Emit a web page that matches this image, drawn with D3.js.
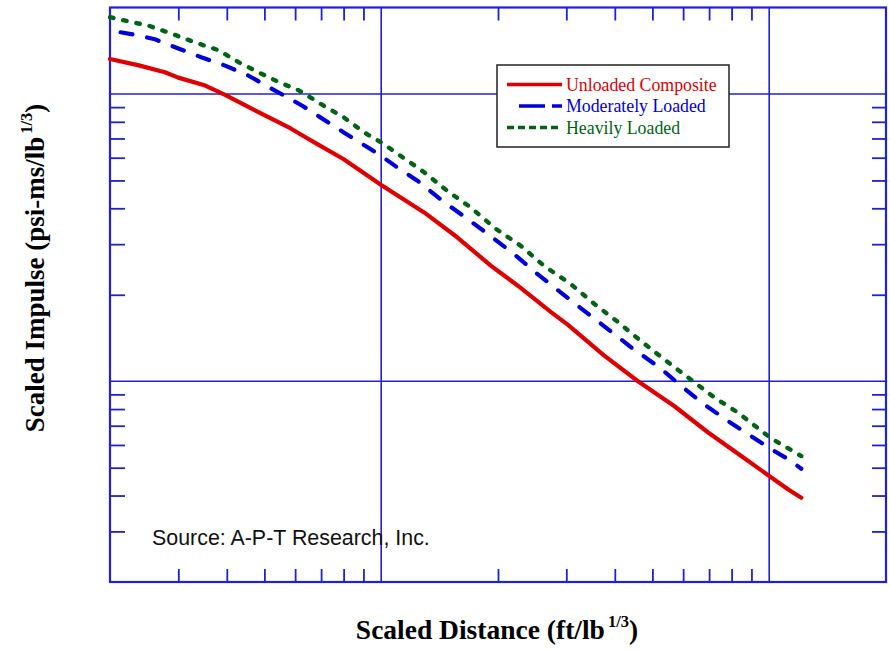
<!DOCTYPE html>
<html>
<head>
<meta charset="utf-8">
<script src="https://cdn.jsdelivr.net/npm/d3@7"></script>
<style>
  body { margin: 0; background: #fff; }
</style>
</head>
<body>
<div class="canvas"></div>
<script>
// data (log-log)
const redDist = [0.2, 0.236, 0.277, 0.300, 0.352, 0.396, 0.503, 0.583, 0.638, 0.697, 0.799, 1.0, 1.29, 1.57, 1.92, 2.0, 2.25, 2.74, 3.03, 3.75, 4.59, 5.69, 6.96, 8.47, 10.0, 11.2, 12.1];
const redImpulse = [132.4, 126, 119, 114, 107, 99.2, 84.0, 76.0, 70.7, 66.0, 59.4, 48.2, 38.7, 31.7, 25.2, 24.2, 21.5, 17.4, 15.7, 12.3, 10.0, 8.20, 6.63, 5.49, 4.68, 4.20, 3.93];

const blueDist = [0.213, 0.236, 0.261, 0.300, 0.345, 0.396, 0.454, 0.524, 0.583, 0.626, 0.697, 0.799, 0.938, 1.02, 1.10, 1.24, 1.45, 1.67, 1.92, 2.20, 2.53, 2.90, 3.37, 3.86, 4.48, 5.20, 5.93, 6.79, 7.83, 9.09, 10.3, 11.2, 12.1];
const blueImpulse = [164, 160, 155, 144, 134, 125.5, 116, 104, 96.1, 91.0, 82.9, 73.6, 64.3, 59.7, 55.5, 49.9, 42.1, 36.7, 31.9, 27.7, 23.6, 20.4, 17.4, 15.1, 12.9, 11.2, 9.63, 8.31, 7.27, 6.37, 5.72, 5.35, 4.96];

const greenDist = [0.2, 0.219, 0.251, 0.289, 0.332, 0.381, 0.429, 0.483, 0.544, 0.613, 0.711, 0.801, 0.902, 1.006, 1.12, 1.29, 1.48, 1.70, 1.97, 2.29, 2.63, 3.08, 3.54, 4.07, 4.67, 5.37, 6.18, 7.23, 8.30, 10.12, 12.1];
const greenImpulse = [185, 180, 173, 162, 151, 142, 129, 119, 110, 103, 91.0, 82.9, 73.6, 67.5, 61.0, 53.4, 46.0, 40.3, 34.0, 29.6, 25.2, 21.8, 18.6, 16.1, 13.8, 11.9, 10.3, 8.77, 7.78, 6.32, 5.49];

const seriesNames = ['Unloaded Composite', 'Moderately Loaded', 'Heavily Loaded'];
const seriesColors = ['#e00000', '#0000dd', '#006414'];

// tick values
const xMajor = [1, 10];
const yMajor = [10, 100];
const xMinor = [0.3, 0.4, 0.5, 0.6, 0.7, 0.8, 0.9, 2, 3, 4, 5, 6, 7, 8, 9];
const yMinor = [3, 4, 5, 6, 7, 8, 9, 20, 30, 40, 50, 60, 70, 80, 90];

const axisBlue = '#2020d8';

const svg = d3.select('.canvas')
  .append('svg')
  .attr('width', 890)
  .attr('height', 650);

// plot box
const plotLeft = 110, plotRight = 886, plotTop = 7.5, plotBottom = 582;

const x = d3.scaleLog().domain([0.2, 20]).range([plotLeft, plotRight]);
const y = d3.scaleLog().domain([2, 200]).range([plotBottom, plotTop]);

// major grid lines
svg.selectAll('.vgrid')
  .data(xMajor)
  .enter().append('line')
    .attr('x1', d => x(d)).attr('x2', d => x(d))
    .attr('y1', plotTop).attr('y2', plotBottom)
    .attr('stroke', axisBlue)
    .attr('stroke-width', 1.6);

svg.selectAll('.hgrid')
  .data(yMajor)
  .enter().append('line')
    .attr('x1', plotLeft).attr('x2', plotRight)
    .attr('y1', d => y(d)).attr('y2', d => y(d))
    .attr('stroke', axisBlue)
    .attr('stroke-width', 1.6);

// minor ticks on all four sides, pointing inwards
const tickGroups = [
  { axis: d3.axisBottom(x).tickValues(xMinor).tickSize(13), t: `translate(0, ${plotTop})` },
  { axis: d3.axisTop(x).tickValues(xMinor).tickSize(13), t: `translate(0, ${plotBottom})` },
  { axis: d3.axisRight(y).tickValues(yMinor).tickSize(15), t: `translate(${plotLeft}, 0)` },
  { axis: d3.axisLeft(y).tickValues(yMinor).tickSize(14), t: `translate(${plotRight}, 0)` }
];

tickGroups.forEach(g => {
  const grp = svg.append('g')
    .attr('transform', g.t)
    .call(g.axis.tickFormat(''));
  grp.select('.domain').remove();
  grp.selectAll('line')
    .attr('stroke', axisBlue)
    .attr('stroke-width', 1.8);
});

// frame
svg.append('rect')
  .attr('x', plotLeft).attr('y', plotTop)
  .attr('width', plotRight - plotLeft).attr('height', plotBottom - plotTop)
  .attr('fill', 'none')
  .attr('stroke', axisBlue)
  .attr('stroke-width', 2.2);

// curves
const line = d3.line()
  .x(d => x(d[0]))
  .y(d => y(d[1]));

const curves = [
  { pts: d3.zip(redDist, redImpulse), dash: null, w: 4.2 },
  { pts: d3.zip(blueDist, blueImpulse), dash: '12,15', w: 4.2 },
  { pts: d3.zip(greenDist, greenImpulse), dash: '3.5,10', w: 4.4 }
];

curves.forEach((c, i) => {
  svg.append('path')
    .datum(c.pts)
    .attr('d', line)
    .attr('fill', 'none')
    .attr('stroke', seriesColors[i])
    .attr('stroke-width', c.w)
    .attr('stroke-linecap', 'round')
    .attr('stroke-linejoin', 'round')
    .attr('stroke-dasharray', c.dash);
});

// legend
const legend = svg.append('g');
legend.append('rect')
  .attr('x', 497).attr('y', 65)
  .attr('width', 232).attr('height', 82)
  .attr('fill', '#fff')
  .attr('stroke', '#222')
  .attr('stroke-width', 1.5);

const legendDash = [null, '26,7', '7,4'];
const legendX1 = [507, 519, 507];

seriesNames.forEach((name, i) => {
  const ly = 84.5 + i * 21.5;
  legend.append('line')
    .attr('x1', legendX1[i]).attr('x2', 562)
    .attr('y1', ly).attr('y2', ly)
    .attr('stroke', seriesColors[i])
    .attr('stroke-width', 3.5)
    .attr('stroke-dasharray', legendDash[i]);
  legend.append('text')
    .attr('x', 566)
    .attr('y', ly + 6)
    .attr('font-family', '"Liberation Serif", "Times New Roman", serif')
    .attr('font-size', 17.8)
    .attr('fill', seriesColors[i])
    .text(name);
});

// source note
svg.append('text')
  .attr('x', 152)
  .attr('y', 545)
  .attr('font-family', '"Liberation Sans", Arial, sans-serif')
  .attr('font-size', 21.4)
  .attr('fill', '#111')
  .text('Source: A-P-T Research, Inc.');

// axis titles
const xTitle = svg.append('text')
  .attr('x', 497)
  .attr('y', 639)
  .attr('text-anchor', 'middle')
  .attr('font-family', '"Liberation Serif", "Times New Roman", serif')
  .attr('font-weight', 'bold')
  .attr('font-size', 27.5)
  .attr('fill', '#000');
xTitle.append('tspan').text('Scaled Distance (ft/lb');
xTitle.append('tspan').attr('dx', 3).attr('dy', -12).attr('font-size', 16.5).text('1/3');
xTitle.append('tspan').attr('dy', 12).text(')');

const yTitle = svg.append('text')
  .attr('transform', 'translate(44, 268) rotate(-90)')
  .attr('text-anchor', 'middle')
  .attr('font-family', '"Liberation Serif", "Times New Roman", serif')
  .attr('font-weight', 'bold')
  .attr('font-size', 27)
  .attr('fill', '#000');
yTitle.append('tspan').text('Scaled Impulse (psi-ms/lb');
yTitle.append('tspan').attr('dx', 3).attr('dy', -12).attr('font-size', 16.5).text('1/3');
yTitle.append('tspan').attr('dy', 12).text(')');
</script>
</body>
</html>
